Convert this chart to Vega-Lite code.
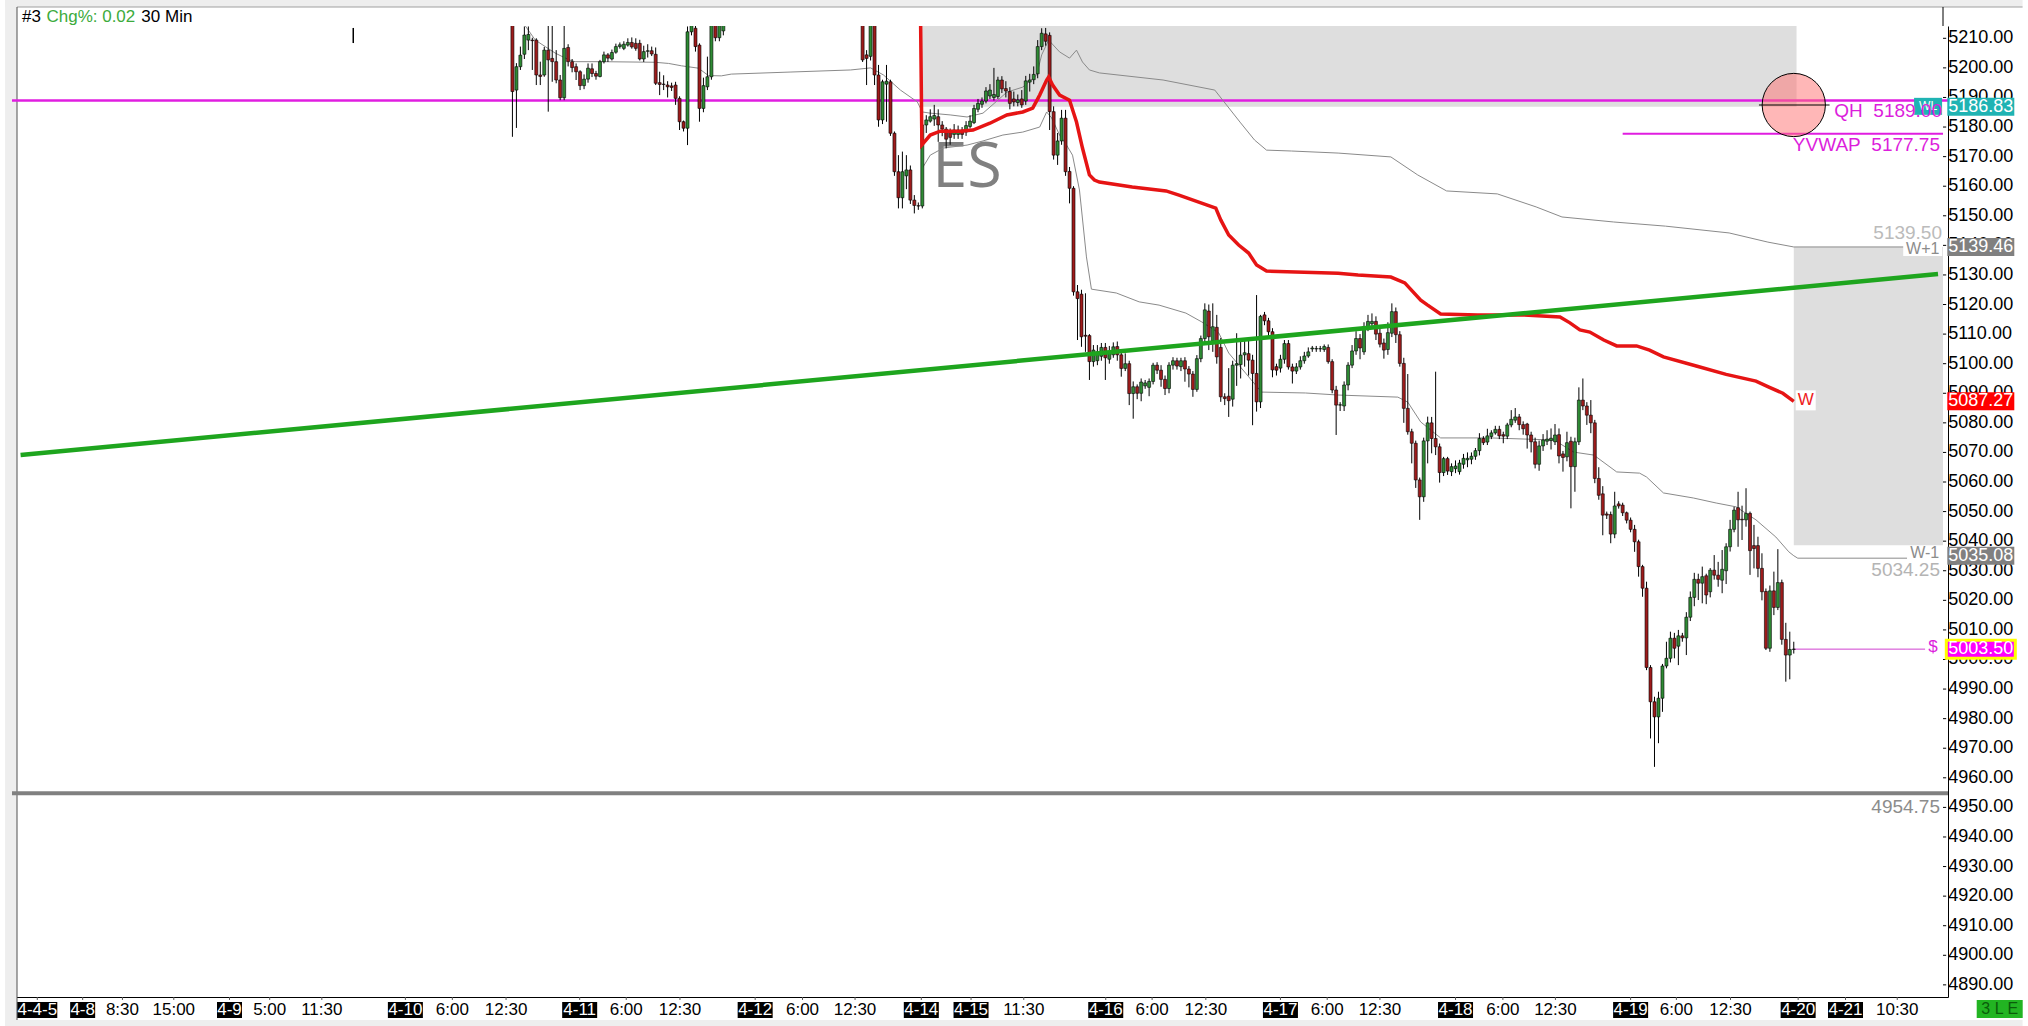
{
  "$schema": "https://vega.github.io/schema/vega-lite/v6.json",
  "width": 1936,
  "height": 971,
  "autosize": "none",
  "padding": {"left": 12, "top": 26, "right": 80, "bottom": 29},
  "background": "white",
  "config": {"view": {"stroke": null}, "font": "Liberation Sans", "axis": {"grid": false, "labelOverlap": false, "labelFlush": false}},
  "datasets": {
    "candles": [
      {"b":124,"o":5218,"h":5222,"l":5176.7,"c":5192},
      {"b":125,"o":5192.5,"h":5201.6,"l":5179.7,"c":5200.4},
      {"b":126,"o":5200.4,"h":5207.2,"l":5199.3,"c":5204.3},
      {"b":127,"o":5204.6,"h":5214,"l":5203,"c":5211.1},
      {"b":128,"o":5209.4,"h":5214,"l":5206,"c":5211.3},
      {"b":129,"o":5209.4,"h":5210.2,"l":5199.3,"c":5209.2},
      {"b":130,"o":5209.4,"h":5210,"l":5194.2,"c":5197.6},
      {"b":131,"o":5197.6,"h":5202.1,"l":5194.2,"c":5197.1},
      {"b":132,"o":5197.6,"h":5207.1,"l":5197,"c":5206},
      {"b":133,"o":5206,"h":5216,"l":5185.2,"c":5202.7},
      {"b":134,"o":5203.2,"h":5216,"l":5195.3,"c":5202.1},
      {"b":135,"o":5202.1,"h":5206,"l":5194.8,"c":5195.9},
      {"b":136,"o":5195.9,"h":5197.6,"l":5189.1,"c":5189.9},
      {"b":137,"o":5189.9,"h":5216,"l":5189.1,"c":5206.6},
      {"b":138,"o":5206.9,"h":5208,"l":5200.5,"c":5202.1},
      {"b":139,"o":5202.1,"h":5203,"l":5198.5,"c":5200.1},
      {"b":140,"o":5200.4,"h":5201.5,"l":5195.9,"c":5198.7},
      {"b":141,"o":5198.7,"h":5199.2,"l":5192.5,"c":5194},
      {"b":142,"o":5194,"h":5197.8,"l":5192.8,"c":5196.2},
      {"b":143,"o":5196.2,"h":5201.5,"l":5195,"c":5199.9},
      {"b":144,"o":5199.7,"h":5201.5,"l":5196.9,"c":5198.1},
      {"b":145,"o":5198.1,"h":5199,"l":5196,"c":5197.2},
      {"b":146,"o":5197.1,"h":5202.7,"l":5196.8,"c":5202.1},
      {"b":147,"o":5202.1,"h":5205.5,"l":5201.5,"c":5204.4},
      {"b":148,"o":5204.4,"h":5205,"l":5202,"c":5203.3},
      {"b":149,"o":5203,"h":5206.2,"l":5202.5,"c":5205.2},
      {"b":150,"o":5205.3,"h":5208.2,"l":5204.8,"c":5207.2},
      {"b":151,"o":5207.2,"h":5208.6,"l":5206.5,"c":5207.8},
      {"b":152,"o":5206.6,"h":5209,"l":5206,"c":5208},
      {"b":153,"o":5207.7,"h":5210,"l":5207.2,"c":5208.6},
      {"b":154,"o":5208.6,"h":5210.3,"l":5206.5,"c":5207.1},
      {"b":155,"o":5208.3,"h":5210,"l":5205.8,"c":5206.6},
      {"b":156,"o":5208.3,"h":5209.5,"l":5202.5,"c":5203},
      {"b":157,"o":5203,"h":5207.5,"l":5202,"c":5205.5},
      {"b":158,"o":5205.6,"h":5208,"l":5203.5,"c":5205.8},
      {"b":159,"o":5205.8,"h":5207.2,"l":5204,"c":5204.7},
      {"b":160,"o":5204.6,"h":5206.9,"l":5194.2,"c":5194.8},
      {"b":161,"o":5195,"h":5198.7,"l":5190.8,"c":5194.4},
      {"b":162,"o":5194.5,"h":5197.5,"l":5192.5,"c":5194.4},
      {"b":163,"o":5194.2,"h":5195.5,"l":5190,"c":5193.6},
      {"b":164,"o":5193.9,"h":5195,"l":5192.2,"c":5193.4},
      {"b":165,"o":5194.2,"h":5195.3,"l":5187.5,"c":5189.7},
      {"b":166,"o":5189.7,"h":5190.4,"l":5179,"c":5181.8},
      {"b":167,"o":5181.8,"h":5182.2,"l":5178.5,"c":5179.6},
      {"b":168,"o":5179.6,"h":5214,"l":5173.9,"c":5212.2},
      {"b":169,"o":5212.2,"h":5222,"l":5211,"c":5218},
      {"b":170,"o":5213.4,"h":5216,"l":5205.5,"c":5207.2},
      {"b":171,"o":5207.7,"h":5208.3,"l":5181.8,"c":5186.3},
      {"b":172,"o":5186.3,"h":5196.7,"l":5185,"c":5194},
      {"b":173,"o":5193.6,"h":5203.8,"l":5192.5,"c":5197},
      {"b":174,"o":5197,"h":5222,"l":5196,"c":5217},
      {"b":175,"o":5219,"h":5222,"l":5209,"c":5210.2},
      {"b":176,"o":5210.2,"h":5222,"l":5209,"c":5218},
      {"b":177,"o":5212.5,"h":5223,"l":5211,"c":5219},
      {"b":212,"o":5218,"h":5222,"l":5202,"c":5202.7},
      {"b":213,"o":5204.4,"h":5206,"l":5194.2,"c":5203.2},
      {"b":214,"o":5203.9,"h":5222,"l":5202.5,"c":5218},
      {"b":215,"o":5218,"h":5222,"l":5194.2,"c":5197.6},
      {"b":216,"o":5197.6,"h":5201,"l":5180.1,"c":5182.4},
      {"b":217,"o":5182.4,"h":5196,"l":5181,"c":5195.3},
      {"b":218,"o":5194.5,"h":5201,"l":5181.8,"c":5195.5},
      {"b":219,"o":5195.3,"h":5196,"l":5177,"c":5177.9},
      {"b":220,"o":5177.9,"h":5178.5,"l":5163.5,"c":5164.9},
      {"b":221,"o":5164.9,"h":5170.5,"l":5152.5,"c":5156.1},
      {"b":222,"o":5156.1,"h":5171.7,"l":5152.5,"c":5164.9},
      {"b":223,"o":5163.5,"h":5170.5,"l":5159,"c":5165.5},
      {"b":224,"o":5165.5,"h":5167,"l":5154,"c":5155.3},
      {"b":225,"o":5155.3,"h":5157,"l":5150.8,"c":5153.5},
      {"b":226,"o":5153.4,"h":5154.5,"l":5152,"c":5153.3},
      {"b":227,"o":5153.3,"h":5183,"l":5152.5,"c":5180.7},
      {"b":228,"o":5180.7,"h":5184,"l":5178,"c":5182.4},
      {"b":229,"o":5182,"h":5186,"l":5181.5,"c":5183.5},
      {"b":230,"o":5182.7,"h":5187.5,"l":5180.4,"c":5183.9},
      {"b":231,"o":5183.5,"h":5186,"l":5175,"c":5180.7},
      {"b":232,"o":5180.7,"h":5182,"l":5176.9,"c":5179.3},
      {"b":233,"o":5179.3,"h":5180,"l":5172.8,"c":5175.9},
      {"b":234,"o":5178.5,"h":5179.5,"l":5174,"c":5176.5},
      {"b":235,"o":5177.5,"h":5181,"l":5176,"c":5179},
      {"b":236,"o":5177.5,"h":5180.5,"l":5176,"c":5179},
      {"b":237,"o":5179,"h":5180,"l":5176,"c":5177.5},
      {"b":238,"o":5178.3,"h":5182,"l":5177,"c":5180.5},
      {"b":239,"o":5180.2,"h":5184,"l":5179.5,"c":5182},
      {"b":240,"o":5181.5,"h":5187.5,"l":5181,"c":5186.3},
      {"b":241,"o":5186,"h":5189.5,"l":5185,"c":5188},
      {"b":242,"o":5187.7,"h":5190,"l":5186.5,"c":5188.8},
      {"b":243,"o":5188.8,"h":5193.5,"l":5188,"c":5192.2},
      {"b":244,"o":5190.5,"h":5194.5,"l":5189.5,"c":5192.5},
      {"b":245,"o":5190,"h":5200,"l":5189,"c":5191},
      {"b":246,"o":5190.3,"h":5197,"l":5189.5,"c":5195.9},
      {"b":247,"o":5195.9,"h":5197.2,"l":5191.5,"c":5192.9},
      {"b":248,"o":5193,"h":5195.5,"l":5190,"c":5192.2},
      {"b":249,"o":5192,"h":5193.5,"l":5186,"c":5188},
      {"b":250,"o":5189.5,"h":5192,"l":5187,"c":5188.5},
      {"b":251,"o":5188.3,"h":5191,"l":5187,"c":5189.2},
      {"b":252,"o":5189.5,"h":5192.5,"l":5186.5,"c":5187.5},
      {"b":253,"o":5188.8,"h":5197.3,"l":5187.5,"c":5195.6},
      {"b":254,"o":5195.2,"h":5198,"l":5192,"c":5195.9},
      {"b":255,"o":5196,"h":5200.5,"l":5194.5,"c":5197.8},
      {"b":256,"o":5198,"h":5209.4,"l":5196.5,"c":5207.2},
      {"b":257,"o":5207.2,"h":5213.4,"l":5206,"c":5211.7},
      {"b":258,"o":5211.5,"h":5213.5,"l":5207.5,"c":5209},
      {"b":259,"o":5211,"h":5212,"l":5179,"c":5185.2},
      {"b":260,"o":5185.2,"h":5187,"l":5169,"c":5170.5},
      {"b":261,"o":5170.5,"h":5178,"l":5167.2,"c":5175.3},
      {"b":262,"o":5175.3,"h":5185.8,"l":5174,"c":5183},
      {"b":263,"o":5183,"h":5185.8,"l":5163.5,"c":5164.9},
      {"b":264,"o":5165,"h":5166.5,"l":5154.2,"c":5159.3},
      {"b":265,"o":5159.3,"h":5160,"l":5123,"c":5124.3},
      {"b":266,"o":5124.3,"h":5126.6,"l":5108,"c":5122},
      {"b":267,"o":5123.5,"h":5125,"l":5105.7,"c":5109.1},
      {"b":268,"o":5109.6,"h":5123.8,"l":5104,"c":5109.3},
      {"b":269,"o":5109.5,"h":5110,"l":5094.5,"c":5100.7},
      {"b":270,"o":5100.7,"h":5106.3,"l":5099,"c":5104.6},
      {"b":271,"o":5101,"h":5106.3,"l":5099.5,"c":5104},
      {"b":272,"o":5102.5,"h":5107,"l":5101,"c":5105.5},
      {"b":273,"o":5105.5,"h":5107,"l":5094.5,"c":5102},
      {"b":274,"o":5101.5,"h":5106,"l":5100,"c":5104},
      {"b":275,"o":5103,"h":5107.2,"l":5102,"c":5105.7},
      {"b":276,"o":5105.8,"h":5107.5,"l":5101,"c":5103},
      {"b":277,"o":5103,"h":5104,"l":5095.6,"c":5098.4},
      {"b":278,"o":5098.4,"h":5103.5,"l":5097.5,"c":5100},
      {"b":279,"o":5100,"h":5101,"l":5086,"c":5089.9},
      {"b":280,"o":5089.9,"h":5094,"l":5081.4,"c":5092.2},
      {"b":281,"o":5092.2,"h":5093,"l":5088,"c":5090},
      {"b":282,"o":5090,"h":5095,"l":5087.3,"c":5093.8},
      {"b":283,"o":5092.5,"h":5094.5,"l":5091.5,"c":5093.5},
      {"b":284,"o":5092,"h":5095,"l":5089,"c":5094},
      {"b":285,"o":5094,"h":5100.3,"l":5093,"c":5099.5},
      {"b":286,"o":5099.5,"h":5100.5,"l":5096.5,"c":5097.8},
      {"b":287,"o":5097.8,"h":5099.5,"l":5092.2,"c":5094.7},
      {"b":288,"o":5094.7,"h":5096,"l":5089.4,"c":5091.6},
      {"b":289,"o":5091.6,"h":5100.5,"l":5090,"c":5099.5},
      {"b":290,"o":5099.5,"h":5102.2,"l":5098,"c":5101},
      {"b":291,"o":5101,"h":5102,"l":5098,"c":5099.2},
      {"b":292,"o":5099,"h":5102,"l":5097.5,"c":5101},
      {"b":293,"o":5101,"h":5102.2,"l":5093.9,"c":5098.2},
      {"b":294,"o":5098.2,"h":5099.2,"l":5092,"c":5096.5},
      {"b":295,"o":5096.5,"h":5097.5,"l":5088.8,"c":5091.3},
      {"b":296,"o":5091.3,"h":5102.9,"l":5090.5,"c":5101.7},
      {"b":297,"o":5101.7,"h":5109.5,"l":5100.5,"c":5108.5},
      {"b":298,"o":5108.5,"h":5120.4,"l":5107,"c":5118.2},
      {"b":299,"o":5117.8,"h":5120,"l":5104.6,"c":5109.1},
      {"b":300,"o":5107.7,"h":5120.4,"l":5104,"c":5112.5},
      {"b":301,"o":5112.3,"h":5116.5,"l":5100,"c":5102.3},
      {"b":302,"o":5105.5,"h":5108.7,"l":5087.1,"c":5088.8},
      {"b":303,"o":5088.8,"h":5090,"l":5086,"c":5088.2},
      {"b":304,"o":5089,"h":5098.5,"l":5082,"c":5087.5},
      {"b":305,"o":5088,"h":5101,"l":5085.5,"c":5099.5},
      {"b":306,"o":5099.5,"h":5110.3,"l":5092.5,"c":5100},
      {"b":307,"o":5099.7,"h":5108,"l":5095,"c":5102.9},
      {"b":308,"o":5103,"h":5108,"l":5099,"c":5103.7},
      {"b":309,"o":5103.4,"h":5108,"l":5096,"c":5101.2},
      {"b":310,"o":5101.2,"h":5103,"l":5079.2,"c":5096.7},
      {"b":311,"o":5096.7,"h":5123.2,"l":5083.8,"c":5087.1},
      {"b":312,"o":5087.1,"h":5116.5,"l":5085,"c":5116},
      {"b":313,"o":5116.5,"h":5117.5,"l":5113,"c":5114.5},
      {"b":314,"o":5114.5,"h":5115.5,"l":5109,"c":5110.8},
      {"b":315,"o":5110.8,"h":5112,"l":5095.4,"c":5097.9},
      {"b":316,"o":5099,"h":5100,"l":5096,"c":5097.8},
      {"b":317,"o":5098.5,"h":5103,"l":5097,"c":5101.5},
      {"b":318,"o":5101.5,"h":5108,"l":5100,"c":5106.8},
      {"b":319,"o":5106.8,"h":5108,"l":5098,"c":5098.9},
      {"b":320,"o":5098.9,"h":5100,"l":5093.3,"c":5097.5},
      {"b":321,"o":5097.5,"h":5100.2,"l":5096.5,"c":5098.9},
      {"b":322,"o":5098.9,"h":5102.5,"l":5098,"c":5101},
      {"b":323,"o":5101,"h":5104,"l":5100,"c":5102.6},
      {"b":324,"o":5102.6,"h":5105.5,"l":5102,"c":5104},
      {"b":325,"o":5105,"h":5106,"l":5104,"c":5105.3},
      {"b":326,"o":5105,"h":5106,"l":5104,"c":5105.1},
      {"b":327,"o":5105,"h":5106,"l":5104,"c":5105.1},
      {"b":328,"o":5104.8,"h":5106.5,"l":5104,"c":5105.8},
      {"b":329,"o":5105.5,"h":5106.5,"l":5100,"c":5100.7},
      {"b":330,"o":5100.7,"h":5101.5,"l":5090,"c":5091.1},
      {"b":331,"o":5091.1,"h":5092.5,"l":5075.9,"c":5086},
      {"b":332,"o":5086,"h":5087,"l":5084,"c":5086.1},
      {"b":333,"o":5085.7,"h":5094,"l":5084,"c":5092.8},
      {"b":334,"o":5092.8,"h":5100.5,"l":5091,"c":5099.5},
      {"b":335,"o":5099.5,"h":5106.3,"l":5098.5,"c":5104.3},
      {"b":336,"o":5104.3,"h":5111,"l":5103,"c":5108.5},
      {"b":337,"o":5108.5,"h":5110,"l":5101.5,"c":5105.3},
      {"b":338,"o":5104,"h":5114,"l":5103,"c":5112.5},
      {"b":339,"o":5112.5,"h":5116.5,"l":5111,"c":5114.3},
      {"b":340,"o":5113.5,"h":5117,"l":5112,"c":5114.3},
      {"b":341,"o":5114.3,"h":5116,"l":5108,"c":5110},
      {"b":342,"o":5110.3,"h":5112,"l":5105.5,"c":5106.6},
      {"b":343,"o":5107,"h":5108.5,"l":5101.7,"c":5104.6},
      {"b":344,"o":5104.8,"h":5114,"l":5103,"c":5110.5},
      {"b":345,"o":5110.3,"h":5120.4,"l":5109,"c":5117.6},
      {"b":346,"o":5117.6,"h":5119,"l":5107,"c":5109.8},
      {"b":347,"o":5109.8,"h":5111,"l":5099,"c":5100.1},
      {"b":348,"o":5100.1,"h":5102,"l":5080,"c":5084.9},
      {"b":349,"o":5084.9,"h":5096.5,"l":5076,"c":5077},
      {"b":350,"o":5077,"h":5078,"l":5066.3,"c":5073.1},
      {"b":351,"o":5073.1,"h":5074,"l":5058,"c":5060.7},
      {"b":352,"o":5060.7,"h":5061.5,"l":5047.2,"c":5055},
      {"b":353,"o":5055,"h":5075,"l":5053.3,"c":5073.9},
      {"b":354,"o":5073.9,"h":5082.1,"l":5066.3,"c":5080},
      {"b":355,"o":5080,"h":5082,"l":5069.7,"c":5074.7},
      {"b":356,"o":5074.7,"h":5097.3,"l":5069.1,"c":5071.9},
      {"b":357,"o":5071.9,"h":5073,"l":5059.8,"c":5063.2},
      {"b":358,"o":5063.2,"h":5068.5,"l":5062,"c":5067.9},
      {"b":359,"o":5067.9,"h":5068.5,"l":5062.4,"c":5063.7},
      {"b":360,"o":5063.5,"h":5066.3,"l":5062,"c":5065.2},
      {"b":361,"o":5064.5,"h":5067.3,"l":5063,"c":5065.4},
      {"b":362,"o":5063.5,"h":5067.5,"l":5062.5,"c":5066.4},
      {"b":363,"o":5066,"h":5069.5,"l":5064.5,"c":5068},
      {"b":364,"o":5067.5,"h":5070,"l":5065,"c":5068},
      {"b":365,"o":5067.7,"h":5070,"l":5066,"c":5068.7},
      {"b":366,"o":5068.7,"h":5071.5,"l":5067.5,"c":5070.6},
      {"b":367,"o":5070.6,"h":5076.5,"l":5069,"c":5074.7},
      {"b":368,"o":5074.7,"h":5075.5,"l":5072.5,"c":5073.3},
      {"b":369,"o":5073.5,"h":5078,"l":5072.5,"c":5075.6},
      {"b":370,"o":5075.4,"h":5077.5,"l":5074.5,"c":5076.6},
      {"b":371,"o":5076.6,"h":5079,"l":5076,"c":5077.8},
      {"b":372,"o":5077.8,"h":5079,"l":5074.5,"c":5075.6},
      {"b":373,"o":5076,"h":5077,"l":5073.1,"c":5075.5},
      {"b":374,"o":5075.5,"h":5080,"l":5074.5,"c":5079.3},
      {"b":375,"o":5079.3,"h":5084.3,"l":5078.5,"c":5081.2},
      {"b":376,"o":5080.9,"h":5085,"l":5080,"c":5082},
      {"b":377,"o":5082,"h":5083,"l":5077.5,"c":5079.4},
      {"b":378,"o":5079.4,"h":5080.5,"l":5076,"c":5078},
      {"b":379,"o":5079.6,"h":5080,"l":5071.3,"c":5075.9},
      {"b":380,"o":5075.9,"h":5077,"l":5070,"c":5073.6},
      {"b":381,"o":5073.6,"h":5075,"l":5064.6,"c":5066},
      {"b":382,"o":5066,"h":5074,"l":5063.8,"c":5072.2},
      {"b":383,"o":5072.2,"h":5076.2,"l":5070.5,"c":5074.2},
      {"b":384,"o":5073.8,"h":5077.5,"l":5072.5,"c":5074.5},
      {"b":385,"o":5074,"h":5078.1,"l":5071,"c":5074.8},
      {"b":386,"o":5073.6,"h":5079.6,"l":5072.5,"c":5075.9},
      {"b":387,"o":5076,"h":5078.1,"l":5066.3,"c":5068.8},
      {"b":388,"o":5069.5,"h":5070.5,"l":5063.5,"c":5068.3},
      {"b":389,"o":5068.5,"h":5077,"l":5067,"c":5073.3},
      {"b":390,"o":5073.8,"h":5075.3,"l":5051.1,"c":5065.2},
      {"b":391,"o":5065.2,"h":5075,"l":5056.7,"c":5073.6},
      {"b":392,"o":5073.6,"h":5092,"l":5072.5,"c":5087.7},
      {"b":393,"o":5087.7,"h":5095,"l":5084.3,"c":5085.7},
      {"b":394,"o":5085.7,"h":5087,"l":5079.3,"c":5082.6},
      {"b":395,"o":5082.6,"h":5087.7,"l":5076.5,"c":5080},
      {"b":396,"o":5080,"h":5081,"l":5059.6,"c":5061.2},
      {"b":397,"o":5061.2,"h":5065,"l":5054,"c":5055.5},
      {"b":398,"o":5056,"h":5058.6,"l":5042,"c":5048.8},
      {"b":399,"o":5049.2,"h":5050,"l":5047.5,"c":5048.8},
      {"b":400,"o":5049,"h":5050,"l":5039.3,"c":5042.4},
      {"b":401,"o":5042.4,"h":5056.7,"l":5041,"c":5051.9},
      {"b":402,"o":5052.6,"h":5053.5,"l":5051,"c":5051.9},
      {"b":403,"o":5052.2,"h":5053,"l":5048.5,"c":5049.6},
      {"b":404,"o":5049.6,"h":5050,"l":5046,"c":5047.1},
      {"b":405,"o":5047.1,"h":5048,"l":5043,"c":5044},
      {"b":406,"o":5044,"h":5045.5,"l":5036.4,"c":5039.8},
      {"b":407,"o":5039.8,"h":5040.5,"l":5028,"c":5031.4},
      {"b":408,"o":5031.4,"h":5032,"l":5021.2,"c":5024.1},
      {"b":409,"o":5024.1,"h":5026.3,"l":4996.4,"c":4997.3},
      {"b":410,"o":4997.3,"h":4998.1,"l":4973.3,"c":4985.7},
      {"b":411,"o":4985.7,"h":4987.4,"l":4963.7,"c":4980.6},
      {"b":412,"o":4980.6,"h":4989.1,"l":4971.7,"c":4986.9},
      {"b":413,"o":4986.9,"h":4998.5,"l":4982.3,"c":4997.8},
      {"b":414,"o":4997.8,"h":5006,"l":4997,"c":5000.4},
      {"b":415,"o":5000.4,"h":5009.4,"l":4999,"c":5007.2},
      {"b":416,"o":5007.2,"h":5009,"l":5000.4,"c":5003.8},
      {"b":417,"o":5004.5,"h":5010,"l":4998.1,"c":5008},
      {"b":418,"o":5008,"h":5009,"l":5006,"c":5007.3},
      {"b":419,"o":5007.3,"h":5016,"l":5001.5,"c":5014.3},
      {"b":420,"o":5014.3,"h":5023,"l":5013,"c":5021},
      {"b":421,"o":5021,"h":5029.3,"l":5018,"c":5027.1},
      {"b":422,"o":5027.1,"h":5029,"l":5020.1,"c":5025.8},
      {"b":423,"o":5025.8,"h":5031.4,"l":5019,"c":5028},
      {"b":424,"o":5028.3,"h":5029,"l":5018.7,"c":5021.8},
      {"b":425,"o":5022.9,"h":5030.9,"l":5021,"c":5030.2},
      {"b":426,"o":5030.2,"h":5035.3,"l":5027,"c":5028.5},
      {"b":427,"o":5028.5,"h":5033,"l":5024.6,"c":5027.1},
      {"b":428,"o":5026.8,"h":5037,"l":5022.4,"c":5030.5},
      {"b":429,"o":5030,"h":5039.3,"l":5025.5,"c":5038.1},
      {"b":430,"o":5038.1,"h":5047.2,"l":5036.5,"c":5044},
      {"b":431,"o":5044,"h":5051.6,"l":5043,"c":5050.5},
      {"b":432,"o":5051.3,"h":5056.7,"l":5038.1,"c":5047.2},
      {"b":433,"o":5047.4,"h":5052,"l":5040.4,"c":5047.2},
      {"b":434,"o":5047.2,"h":5057.9,"l":5044.9,"c":5049.4},
      {"b":435,"o":5049.4,"h":5050,"l":5028.6,"c":5036.8},
      {"b":436,"o":5038.5,"h":5045.5,"l":5030.8,"c":5037.5},
      {"b":437,"o":5038.5,"h":5041.5,"l":5027.8,"c":5030.8},
      {"b":438,"o":5030.8,"h":5035.9,"l":5020,"c":5022.9},
      {"b":439,"o":5023,"h":5024,"l":5003.2,"c":5003.8},
      {"b":440,"o":5003.8,"h":5025,"l":5002.6,"c":5023.2},
      {"b":441,"o":5023.2,"h":5029.7,"l":5015,"c":5017.6},
      {"b":442,"o":5017.6,"h":5037.3,"l":5016.7,"c":5026},
      {"b":443,"o":5026,"h":5027,"l":5005,"c":5006.8},
      {"b":444,"o":5006.8,"h":5012.4,"l":4992.5,"c":5001.5},
      {"b":445,"o":5001.5,"h":5009.4,"l":4993.3,"c":5003.4},
      {"b":446,"o":5003.4,"h":5006,"l":5002,"c":5003.5}
    ],
    "bands": [
      {"s":"up","b":125.5,"p":5217.5},{"s":"up","b":129.75,"p":5209.4},{"s":"up","b":132.25,"p":5207.2},{"s":"up","b":134.75,"p":5205.0},
      {"s":"up","b":138.25,"p":5202.7},{"s":"up","b":139.75,"p":5202.1},{"s":"up","b":146.5,"p":5202.1},{"s":"up","b":159.75,"p":5201.9},
      {"s":"up","b":163.25,"p":5201.5},{"s":"up","b":166.5,"p":5200.7},{"s":"up","b":170.75,"p":5199.9},{"s":"up","b":173.25,"p":5197.4},
      {"s":"up","b":176.5,"p":5197.3},{"s":"up","b":179,"p":5197.9},{"s":"up","b":194,"p":5198.6},{"s":"up","b":209,"p":5199.3},
      {"s":"up","b":214,"p":5200.0},{"s":"up","b":217.25,"p":5197.6},{"s":"up","b":221.5,"p":5192.5},{"s":"up","b":225.75,"p":5188.5},
      {"s":"up","b":227,"p":5185.1},{"s":"up","b":229,"p":5184.7},{"s":"up","b":234,"p":5184.1},{"s":"up","b":238.25,"p":5183.4},
      {"s":"up","b":242.25,"p":5184.7},{"s":"up","b":245.75,"p":5188.8},{"s":"up","b":248.25,"p":5191.8},{"s":"up","b":252.25,"p":5193.5},
      {"s":"up","b":255.75,"p":5197.6},{"s":"up","b":257,"p":5204.4},{"s":"up","b":258.75,"p":5209.4},{"s":"up","b":261.5,"p":5205.4},
      {"s":"up","b":264,"p":5203.3},{"s":"up","b":265.75,"p":5206.0},{"s":"up","b":267.25,"p":5202.0},{"s":"up","b":269,"p":5199.3},
      {"s":"up","b":271.5,"p":5198.3},{"s":"up","b":287.5,"p":5195.9},{"s":"up","b":300.5,"p":5192.5},{"s":"up","b":307,"p":5181.4},
      {"s":"up","b":310.5,"p":5175.6},{"s":"up","b":313.5,"p":5172.2},{"s":"up","b":319.75,"p":5171.9},{"s":"up","b":331.5,"p":5171.2},
      {"s":"up","b":344.75,"p":5169.9},{"s":"up","b":351.5,"p":5163.8},{"s":"up","b":358.75,"p":5158.4},{"s":"up","b":371.5,"p":5157.4},
      {"s":"up","b":381.25,"p":5153.0},{"s":"up","b":387.75,"p":5149.6},{"s":"up","b":400.75,"p":5147.9},{"s":"up","b":413.75,"p":5146.5},
      {"s":"up","b":429.75,"p":5144.2},{"s":"up","b":439.5,"p":5141.1},{"s":"up","b":446,"p":5139.46},{"s":"up","b":474,"p":5139.46},
      {"s":"lo","b":227,"p":5166.1},{"s":"lo","b":229,"p":5170.5},{"s":"lo","b":232.25,"p":5172.9},{"s":"lo","b":238.25,"p":5173.9},
      {"s":"lo","b":242.25,"p":5175.3},{"s":"lo","b":247.25,"p":5177.3},{"s":"lo","b":252.25,"p":5178.3},{"s":"lo","b":256.5,"p":5180.0},
      {"s":"lo","b":258.25,"p":5185.1},{"s":"lo","b":259.5,"p":5183.1},{"s":"lo","b":261.5,"p":5177.3},{"s":"lo","b":263.25,"p":5173.9},
      {"s":"lo","b":264.75,"p":5170.5},{"s":"lo","b":266.5,"p":5158.7},{"s":"lo","b":268.25,"p":5136.1},{"s":"lo","b":269.5,"p":5125.2},
      {"s":"lo","b":275.75,"p":5123.9},{"s":"lo","b":281.5,"p":5120.9},{"s":"lo","b":286.5,"p":5119.8},{"s":"lo","b":293.25,"p":5117.1},
      {"s":"lo","b":297.25,"p":5114.1},{"s":"lo","b":301.5,"p":5110.4},{"s":"lo","b":304,"p":5103.6},{"s":"lo","b":308.25,"p":5096.8},
      {"s":"lo","b":312.25,"p":5090.4},{"s":"lo","b":323.25,"p":5090.1},{"s":"lo","b":331.5,"p":5089.4},{"s":"lo","b":346.5,"p":5088.7},
      {"s":"lo","b":349,"p":5087.0},{"s":"lo","b":352.25,"p":5080.3},{"s":"lo","b":357.25,"p":5074.9},{"s":"lo","b":369.75,"p":5074.9},
      {"s":"lo","b":385.75,"p":5074.2},{"s":"lo","b":390.75,"p":5070.1},{"s":"lo","b":395.75,"p":5069.1},{"s":"lo","b":401.5,"p":5063.4},
      {"s":"lo","b":407.25,"p":5063.0},{"s":"lo","b":409,"p":5061.7},{"s":"lo","b":413.25,"p":5056.3},{"s":"lo","b":420.75,"p":5054.6},
      {"s":"lo","b":426.5,"p":5052.9},{"s":"lo","b":431.5,"p":5051.6},{"s":"lo","b":436.5,"p":5047.2},{"s":"lo","b":441.5,"p":5041.4},
      {"s":"lo","b":444.75,"p":5036.4},{"s":"lo","b":446,"p":5035.08},{"s":"lo","b":447,"p":5034.25},{"s":"lo","b":474.5,"p":5034.25}
    ],
    "wline": [
      {"b":226.5,"p":5225},{"b":226.9,"p":5174.0},{"b":229,"p":5177.3},{"b":231.5,"p":5178.6},{"b":236.5,"p":5178.6},
      {"b":239.75,"p":5179.0},{"b":244,"p":5181.3},{"b":248.25,"p":5184.1},{"b":252.25,"p":5185.1},{"b":254.75,"p":5186.4},
      {"b":256.5,"p":5190.8},{"b":258.25,"p":5195.9},{"b":258.75,"p":5196.9},{"b":259.75,"p":5194.2},{"b":261.5,"p":5190.8},
      {"b":264,"p":5189.1},{"b":265.75,"p":5181.7},{"b":267.25,"p":5172.9},{"b":269,"p":5163.8},{"b":270.25,"p":5162.1},
      {"b":271.5,"p":5161.4},{"b":279.75,"p":5159.7},{"b":288.25,"p":5158.4},{"b":291.5,"p":5157.0},{"b":300.75,"p":5152.6},
      {"b":302,"p":5148.6},{"b":304,"p":5143.5},{"b":306.5,"p":5140.1},{"b":309,"p":5137.4},{"b":311,"p":5133.4},
      {"b":313.5,"p":5131.3},{"b":331.5,"p":5130.6},{"b":336.5,"p":5130.0},{"b":344.75,"p":5129.3},{"b":348.25,"p":5127.3},
      {"b":352.25,"p":5121.5},{"b":354,"p":5119.8},{"b":357.25,"p":5116.8},{"b":366.5,"p":5116.5},{"b":378.25,"p":5116.5},
      {"b":387.25,"p":5115.8},{"b":389.75,"p":5113.8},{"b":392.25,"p":5111.4},{"b":394.75,"p":5110.7},{"b":398.25,"p":5108.0},
      {"b":401.5,"p":5106.0},{"b":406.5,"p":5106.0},{"b":409.75,"p":5104.6},{"b":413.25,"p":5102.3},{"b":421.5,"p":5099.2},
      {"b":429,"p":5096.4},{"b":436.5,"p":5094.1},{"b":439.75,"p":5092.1},{"b":443.25,"p":5090.0},{"b":446,"p":5087.27}
    ],
    "trend": [{"b":0.4,"p":5069.1},{"b":482.25,"p":5130.3}],
    "zones": [
      {"t0":226.9,"t1":446.7,"lo":5186.83,"hi":5216},
      {"t0":446,"t1":483.5,"lo":5038.6,"hi":5139.46}
    ],
    "tags": [
      {"name":"WL","p":5186.83},{"name":"W+1","p":5139.46},{"name":"W","p":5087.27},{"name":"W-1","p":5035.08}
    ],
    "yticks": [
      {"v":4890},{"v":4900},{"v":4910},{"v":4920},{"v":4930},{"v":4940},{"v":4950},{"v":4960},{"v":4970},{"v":4980},{"v":4990},
      {"v":5000},{"v":5010},{"v":5020},{"v":5030},{"v":5040},{"v":5050},{"v":5060},{"v":5070},{"v":5080},{"v":5090},{"v":5100},
      {"v":5110},{"v":5120},{"v":5130},{"v":5140},{"v":5150},{"v":5160},{"v":5170},{"v":5180},{"v":5190},{"v":5200},{"v":5210}
    ],
    "xd": [
      {"b":4.6,"t":"4-4-5"},{"b":16,"t":"4-8"},{"b":52.9,"t":"4-9"},{"b":97.1,"t":"4-10"},
      {"b":140.9,"t":"4-11"},{"b":185,"t":"4-12"},{"b":226.75,"t":"4-14"},{"b":239.25,"t":"4-15"},{"b":273.1,"t":"4-16"},
      {"b":317,"t":"4-17"},{"b":361,"t":"4-18"},{"b":405,"t":"4-19"},{"b":447.1,"t":"4-20"},{"b":459,"t":"4-21"}
    ],
    "xt": [
      {"b":26,"t":"8:30"},{"b":38.9,"t":"15:00"},{"b":63,"t":"5:00"},{"b":76.1,"t":"11:30"},{"b":108.9,"t":"6:00"},
      {"b":122.4,"t":"12:30"},{"b":152.6,"t":"6:00"},{"b":166.1,"t":"12:30"},{"b":196.9,"t":"6:00"},{"b":210.1,"t":"12:30"},
      {"b":252.5,"t":"11:30"},{"b":284.75,"t":"6:00"},{"b":298.25,"t":"12:30"},{"b":328.75,"t":"6:00"},{"b":342,"t":"12:30"},
      {"b":372.9,"t":"6:00"},{"b":386.1,"t":"12:30"},{"b":416.5,"t":"6:00"},{"b":430.1,"t":"12:30"},{"b":472,"t":"10:30"}
    ],
    "head": [{"b":0.75,"t":"#3"},{"b":6.9,"t":"Chg%: 0.02"},{"b":30.75,"t":"30 Min"}]
  },
  "layer": [
    {
      "data": {"name": "candles"},
      "mark": {"type": "rule", "color": "#000000", "strokeWidth": 1, "opacity": 0},
      "encoding": {
        "x": {"field": "b", "type": "quantitative", "title": null,
          "scale": {"domain": [-0.5, 483.5], "nice": false, "zero": false},
          "axis": {"orient": "bottom", "title": null, "grid": false, "labels": false, "ticks": false, "domain": true, "domainColor": "#000000", "domainWidth": 1}},
        "y": {"field": "l", "type": "quantitative", "title": null,
          "scale": {"domain": [4885.9, 5214.16], "nice": false, "zero": false},
          "axis": {"orient": "right", "title": null, "grid": false, "labels": false, "ticks": false, "domain": true, "domainColor": "#000000", "domainWidth": 1}}
      }
    },
    {
      "data": {"values": [{}]},
      "mark": {"type": "rect", "fill": "#eeeeee"},
      "encoding": {
        "x": {"datum": -3.5, "type": "quantitative", "title": null}, "x2": {"datum": 503.5},
        "y": {"datum": 5222.95, "type": "quantitative", "title": null}, "y2": {"datum": 5220.58}
      }
    },
    {
      "data": {"values": [{}]},
      "mark": {"type": "rect", "fill": "#eeeeee"},
      "encoding": {
        "x": {"datum": -3.5, "type": "quantitative", "title": null}, "x2": {"datum": -0.5},
        "y": {"datum": 5222.95, "type": "quantitative", "title": null}, "y2": {"datum": 4876.09}
      }
    },
    {
      "data": {"values": [{}]},
      "mark": {"type": "rect", "fill": "#eeeeee"},
      "encoding": {
        "x": {"datum": -3.5, "type": "quantitative", "title": null}, "x2": {"datum": 503.5},
        "y": {"datum": 4878.12, "type": "quantitative", "title": null}, "y2": {"datum": 4876.09}
      }
    },
    {
      "data": {"values": [{}]},
      "mark": {"type": "rule", "color": "#a0a0a0", "strokeWidth": 1},
      "encoding": {
        "x": {"datum": -0.5, "type": "quantitative", "title": null}, "x2": {"datum": 503.5},
        "y": {"datum": 5220.58, "type": "quantitative", "title": null}
      }
    },
    {
      "data": {"values": [{}]},
      "mark": {"type": "rule", "color": "#505050", "strokeWidth": 1},
      "encoding": {
        "x": {"datum": -0.5, "type": "quantitative", "title": null},
        "y": {"datum": 5220.58, "type": "quantitative", "title": null}, "y2": {"datum": 4878.12}
      }
    },
    {
      "data": {"values": [{}]},
      "mark": {"type": "rule", "color": "#000000", "strokeWidth": 1},
      "encoding": {
        "x": {"datum": 483.5, "type": "quantitative", "title": null},
        "y": {"datum": 5220.58, "type": "quantitative", "title": null}, "y2": {"datum": 5214.16}
      }
    },
    {
      "data": {"name": "yticks"},
      "mark": {"type": "rule", "color": "#000000", "strokeWidth": 1},
      "encoding": {
        "x": {"datum": 483.5, "type": "quantitative", "title": null}, "x2": {"datum": 484.3},
        "y": {"field": "v", "type": "quantitative", "title": null}
      }
    },
    {
      "data": {"name": "yticks"},
      "mark": {"type": "text", "fontSize": 18, "color": "#000000", "align": "left", "baseline": "middle", "font": "Liberation Sans"},
      "encoding": {
        "x": {"datum": 484.8, "type": "quantitative", "title": null},
        "y": {"field": "v", "type": "quantitative", "title": null},
        "text": {"field": "v", "type": "quantitative", "format": ".2f"}
      }
    },
    {
      "data": {"name": "xd"},
      "mark": {"type": "rule", "color": "#555555", "strokeWidth": 1},
      "encoding": {
        "x": {"field": "b", "type": "quantitative", "title": null},
        "y": {"datum": 4885.9, "type": "quantitative", "title": null}, "y2": {"datum": 4884.9}
      }
    },
    {
      "data": {"name": "xt"},
      "mark": {"type": "rule", "color": "#555555", "strokeWidth": 1},
      "encoding": {
        "x": {"field": "b", "type": "quantitative", "title": null},
        "y": {"datum": 4885.9, "type": "quantitative", "title": null}, "y2": {"datum": 4884.9}
      }
    },
    {
      "data": {"name": "zones"},
      "mark": {"type": "rect", "fill": "#dedede", "clip": true},
      "encoding": {
        "x": {"field": "t0", "type": "quantitative", "title": null}, "x2": {"field": "t1"},
        "y": {"field": "lo", "type": "quantitative", "title": null}, "y2": {"field": "hi"}
      }
    },
    {
      "data": {"values": [{"p": 4954.75}]},
      "mark": {"type": "rule", "color": "#808080", "strokeWidth": 4},
      "encoding": {"y": {"field": "p", "type": "quantitative", "title": null}}
    },
    {
      "data": {"values": [{"p": 5189}]},
      "mark": {"type": "rule", "color": "#e01ee0", "strokeWidth": 2.5},
      "encoding": {"y": {"field": "p", "type": "quantitative", "title": null}}
    },
    {
      "data": {"values": [{"b0": 403, "b1": 483.5, "p": 5177.75}]},
      "mark": {"type": "rule", "color": "#e01ee0", "strokeWidth": 2},
      "encoding": {
        "x": {"field": "b0", "type": "quantitative", "title": null}, "x2": {"field": "b1"},
        "y": {"field": "p", "type": "quantitative", "title": null}
      }
    },
    {
      "data": {"values": [{"b0": 446, "b1": 479, "p": 5003.5}]},
      "mark": {"type": "rule", "color": "#d040d0", "strokeWidth": 1},
      "encoding": {
        "x": {"field": "b0", "type": "quantitative", "title": null}, "x2": {"field": "b1"},
        "y": {"field": "p", "type": "quantitative", "title": null}
      }
    },
    {
      "data": {"values": [{}]},
      "mark": {"type": "text", "text": "ES", "font": "Open Sans", "fontSize": 63, "color": "#808080", "align": "left", "baseline": "alphabetic"},
      "encoding": {
        "x": {"datum": 229.5, "type": "quantitative", "title": null},
        "y": {"datum": 5159.8, "type": "quantitative", "title": null}
      }
    },
    {
      "data": {"name": "bands"},
      "mark": {"type": "line", "color": "#8a8a8a", "strokeWidth": 1, "clip": true},
      "encoding": {
        "x": {"field": "b", "type": "quantitative", "title": null},
        "y": {"field": "p", "type": "quantitative", "title": null},
        "detail": {"field": "s"}
      }
    },
    {
      "data": {"values": [{"b": 84, "p0": 5208.4, "p1": 5213.5}]},
      "mark": {"type": "rule", "color": "#000000", "strokeWidth": 1.5},
      "encoding": {
        "x": {"field": "b", "type": "quantitative", "title": null},
        "y": {"field": "p0", "type": "quantitative", "title": null}, "y2": {"field": "p1"}
      }
    },
    {
      "data": {"name": "candles"},
      "mark": {"type": "rule", "color": "#000000", "strokeWidth": 1, "clip": true},
      "encoding": {
        "x": {"field": "b", "type": "quantitative", "title": null},
        "y": {"field": "l", "type": "quantitative", "title": null}, "y2": {"field": "h"}
      }
    },
    {
      "data": {"name": "candles"},
      "mark": {"type": "bar", "width": 3, "stroke": "#000000", "strokeWidth": 0.6, "clip": true},
      "encoding": {
        "x": {"field": "b", "type": "quantitative", "title": null},
        "y": {"field": "o", "type": "quantitative", "title": null}, "y2": {"field": "c"},
        "fill": {"condition": {"test": "datum.c >= datum.o", "value": "#2e8b34"}, "value": "#9e1b1b"}
      }
    },
    {
      "data": {"name": "wline"},
      "mark": {"type": "line", "color": "#e61414", "strokeWidth": 3.5, "clip": true},
      "encoding": {
        "x": {"field": "b", "type": "quantitative", "title": null},
        "y": {"field": "p", "type": "quantitative", "title": null}
      }
    },
    {
      "data": {"name": "trend"},
      "mark": {"type": "line", "color": "#1ea51e", "strokeWidth": 4.5, "clip": true},
      "encoding": {
        "x": {"field": "b", "type": "quantitative", "title": null},
        "y": {"field": "p", "type": "quantitative", "title": null}
      }
    },
    {
      "data": {"values": [{"b": 446, "p": 5187.45}]},
      "mark": {"type": "point", "shape": "circle", "size": 4004, "filled": true, "fill": "#ff7070", "fillOpacity": 0.5, "stroke": "#000000", "strokeWidth": 1, "strokeOpacity": 1},
      "encoding": {
        "x": {"field": "b", "type": "quantitative", "title": null},
        "y": {"field": "p", "type": "quantitative", "title": null}
      }
    },
    {
      "data": {"values": [{"b0": 437.25, "b1": 455, "p": 5187.45}]},
      "mark": {"type": "rule", "color": "#000000", "strokeWidth": 1},
      "encoding": {
        "x": {"field": "b0", "type": "quantitative", "title": null}, "x2": {"field": "b1"},
        "y": {"field": "p", "type": "quantitative", "title": null}
      }
    },
    {
      "data": {"values": [{"b": 478.4, "p": 5138.94}]},
      "mark": {"type": "tick", "orient": "horizontal", "size": 39, "thickness": 15, "color": "#ffffff", "opacity": 1},
      "encoding": {
        "x": {"field": "b", "type": "quantitative", "title": null},
        "y": {"field": "p", "type": "quantitative", "title": null}
      }
    },
    {
      "data": {"values": [{"b": 478.9, "p": 5036.0}]},
      "mark": {"type": "tick", "orient": "horizontal", "size": 35, "thickness": 14, "color": "#ffffff", "opacity": 1},
      "encoding": {
        "x": {"field": "b", "type": "quantitative", "title": null},
        "y": {"field": "p", "type": "quantitative", "title": null}
      }
    },
    {
      "data": {"values": [{"b": 449, "p": 5087.6}]},
      "mark": {"type": "tick", "orient": "horizontal", "size": 20, "thickness": 20, "color": "#ffffff", "opacity": 1},
      "encoding": {
        "x": {"field": "b", "type": "quantitative", "title": null},
        "y": {"field": "p", "type": "quantitative", "title": null}
      }
    },
    {
      "data": {"values": [{"b": 478.4, "p": 5138.94, "t": "W+1"}, {"b": 478.9, "p": 5036.0, "t": "W-1"}]},
      "mark": {"type": "text", "fontSize": 16, "color": "#8c8c8c", "align": "center", "baseline": "middle"},
      "encoding": {
        "x": {"field": "b", "type": "quantitative", "title": null},
        "y": {"field": "p", "type": "quantitative", "title": null},
        "text": {"field": "t"}
      }
    },
    {
      "data": {"values": [{"b": 449, "p": 5087.6, "t": "W"}]},
      "mark": {"type": "text", "fontSize": 17, "color": "#ee2020", "align": "center", "baseline": "middle"},
      "encoding": {
        "x": {"field": "b", "type": "quantitative", "title": null},
        "y": {"field": "p", "type": "quantitative", "title": null},
        "text": {"field": "t"}
      }
    },
    {
      "data": {"values": [{"b": 479.75, "p": 5187.0}]},
      "mark": {"type": "tick", "orient": "horizontal", "size": 28, "thickness": 17, "color": "#1fb3b3", "opacity": 1},
      "encoding": {
        "x": {"field": "b", "type": "quantitative", "title": null},
        "y": {"field": "p", "type": "quantitative", "title": null}
      }
    },
    {
      "data": {"values": [{"b": 479.75, "p": 5187.0, "t": "WL"}]},
      "mark": {"type": "text", "fontSize": 12, "color": "#ffffff", "align": "center", "baseline": "middle"},
      "encoding": {
        "x": {"field": "b", "type": "quantitative", "title": null},
        "y": {"field": "p", "type": "quantitative", "title": null},
        "text": {"field": "t"}
      }
    },
    {
      "data": {"values": [{"b": 483.25, "p": 5189, "t": "QH\u00a0\u00a05189.00"}, {"b": 482.75, "p": 5177.75, "t": "YVWAP\u00a0\u00a05177.75"}]},
      "mark": {"type": "text", "fontSize": 19, "color": "#dc1edc", "align": "right", "baseline": "middle", "dy": 11},
      "encoding": {
        "x": {"field": "b", "type": "quantitative", "title": null},
        "y": {"field": "p", "type": "quantitative", "title": null},
        "text": {"field": "t"}
      }
    },
    {
      "data": {"values": [{"b": 481, "p": 5003.5, "t": "$"}]},
      "mark": {"type": "text", "fontSize": 17, "color": "#dc1edc", "align": "center", "baseline": "middle", "dy": -2},
      "encoding": {
        "x": {"field": "b", "type": "quantitative", "title": null},
        "y": {"field": "p", "type": "quantitative", "title": null},
        "text": {"field": "t"}
      }
    },
    {
      "data": {"values": [{"b": 483.25, "p": 5139.5, "t": "5139.50"}]},
      "mark": {"type": "text", "fontSize": 19, "color": "#bbbbbb", "align": "right", "baseline": "middle", "dy": -14},
      "encoding": {
        "x": {"field": "b", "type": "quantitative", "title": null},
        "y": {"field": "p", "type": "quantitative", "title": null},
        "text": {"field": "t"}
      }
    },
    {
      "data": {"values": [{"b": 482.75, "p": 5034.25, "t": "5034.25"}]},
      "mark": {"type": "text", "fontSize": 19, "color": "#b4b4b4", "align": "right", "baseline": "middle", "dy": 12},
      "encoding": {
        "x": {"field": "b", "type": "quantitative", "title": null},
        "y": {"field": "p", "type": "quantitative", "title": null},
        "text": {"field": "t"}
      }
    },
    {
      "data": {"values": [{"b": 482.75, "p": 4954.75, "t": "4954.75"}]},
      "mark": {"type": "text", "fontSize": 19, "color": "#8c8c8c", "align": "right", "baseline": "middle", "dy": 13.4},
      "encoding": {
        "x": {"field": "b", "type": "quantitative", "title": null},
        "y": {"field": "p", "type": "quantitative", "title": null},
        "text": {"field": "t"}
      }
    },
    {
      "data": {"name": "tags"},
      "mark": {"type": "tick", "orient": "horizontal", "size": 67, "thickness": 18, "opacity": 1},
      "encoding": {
        "x": {"datum": 493, "type": "quantitative", "title": null},
        "y": {"field": "p", "type": "quantitative", "title": null},
        "color": {"field": "name", "type": "nominal", "legend": null,
          "scale": {"domain": ["WL", "W+1", "W", "W-1"], "range": ["#1fb3b3", "#808080", "#ff0000", "#808080"]}}
      }
    },
    {
      "data": {"values": [{"p": 5003.5}]},
      "mark": {"type": "tick", "orient": "horizontal", "size": 72, "thickness": 21, "color": "#ffff00", "opacity": 1},
      "encoding": {
        "x": {"datum": 493, "type": "quantitative", "title": null},
        "y": {"field": "p", "type": "quantitative", "title": null}
      }
    },
    {
      "data": {"values": [{"p": 5003.5}]},
      "mark": {"type": "tick", "orient": "horizontal", "size": 66, "thickness": 15, "color": "#ff00ff", "opacity": 1},
      "encoding": {
        "x": {"datum": 493, "type": "quantitative", "title": null},
        "y": {"field": "p", "type": "quantitative", "title": null}
      }
    },
    {
      "data": {"values": [{"p": 5186.83}, {"p": 5139.46}, {"p": 5087.27}, {"p": 5035.08}, {"p": 5003.5}]},
      "mark": {"type": "text", "fontSize": 18, "color": "#ffffff", "align": "center", "baseline": "middle"},
      "encoding": {
        "x": {"datum": 493, "type": "quantitative", "title": null},
        "y": {"field": "p", "type": "quantitative", "title": null},
        "text": {"field": "p", "type": "quantitative", "format": ".2f"}
      }
    },
    {
      "data": {"name": "xd"},
      "transform": [{"filter": "length(datum.t) == 3"}],
      "mark": {"type": "tick", "orient": "horizontal", "size": 25, "thickness": 16, "color": "#000000", "opacity": 1},
      "encoding": {
        "x": {"field": "b", "type": "quantitative", "title": null},
        "y": {"datum": 4881.5, "type": "quantitative", "title": null}
      }
    },
    {
      "data": {"name": "xd"},
      "transform": [{"filter": "length(datum.t) == 4"}],
      "mark": {"type": "tick", "orient": "horizontal", "size": 35, "thickness": 16, "color": "#000000", "opacity": 1},
      "encoding": {
        "x": {"field": "b", "type": "quantitative", "title": null},
        "y": {"datum": 4881.5, "type": "quantitative", "title": null}
      }
    },
    {
      "data": {"name": "xd"},
      "transform": [{"filter": "length(datum.t) == 5"}],
      "mark": {"type": "tick", "orient": "horizontal", "size": 40, "thickness": 16, "color": "#000000", "opacity": 1},
      "encoding": {
        "x": {"field": "b", "type": "quantitative", "title": null},
        "y": {"datum": 4881.5, "type": "quantitative", "title": null}
      }
    },
    {
      "data": {"name": "xd"},
      "mark": {"type": "text", "fontSize": 17, "color": "#ffffff", "align": "center", "baseline": "middle"},
      "encoding": {
        "x": {"field": "b", "type": "quantitative", "title": null},
        "y": {"datum": 4881.5, "type": "quantitative", "title": null},
        "text": {"field": "t"}
      }
    },
    {
      "data": {"name": "xt"},
      "mark": {"type": "text", "fontSize": 17, "color": "#000000", "align": "center", "baseline": "middle"},
      "encoding": {
        "x": {"field": "b", "type": "quantitative", "title": null},
        "y": {"datum": 4881.5, "type": "quantitative", "title": null},
        "text": {"field": "t"}
      }
    },
    {
      "data": {"values": [{"b": 497.75, "p": 4881.84}]},
      "mark": {"type": "tick", "orient": "horizontal", "size": 46, "thickness": 18, "color": "#22b422", "opacity": 1},
      "encoding": {
        "x": {"field": "b", "type": "quantitative", "title": null},
        "y": {"field": "p", "type": "quantitative", "title": null}
      }
    },
    {
      "data": {"values": [{"b": 497.75, "p": 4881.84, "t": "3 L E"}]},
      "mark": {"type": "text", "fontSize": 16, "color": "#0a5c0a", "align": "center", "baseline": "middle"},
      "encoding": {
        "x": {"field": "b", "type": "quantitative", "title": null},
        "y": {"field": "p", "type": "quantitative", "title": null},
        "text": {"field": "t"}
      }
    },
    {
      "data": {"name": "head"},
      "mark": {"type": "text", "fontSize": 17, "align": "left", "baseline": "middle"},
      "encoding": {
        "x": {"field": "b", "type": "quantitative", "title": null},
        "y": {"datum": 5217.1, "type": "quantitative", "title": null},
        "text": {"field": "t"},
        "color": {"condition": {"test": "datum.t == 'Chg%: 0.02'", "value": "#3cab3c"}, "value": "#000000"}
      }
    }
  ]
}
